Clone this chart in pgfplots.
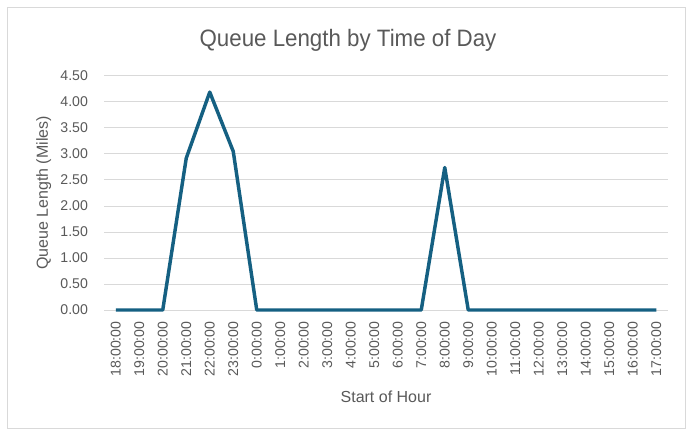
\documentclass[border=0pt]{standalone}
\usepackage{pgfplots}
\pgfplotsset{compat=1.18}
\usepackage{fontspec}
\setmainfont{Liberation Sans}
\newfontfamily\titlefont[FakeStretch=0.94]{Liberation Sans}
\definecolor{lineblue}{HTML}{156082}
\definecolor{gridgray}{HTML}{D9D9D9}
\definecolor{textgray}{HTML}{595959}
\begin{document}
\begin{tikzpicture}[x=0.75pt,y=0.75pt]
\path[use as bounding box] (0,0) rectangle (686,429);
\draw[gridgray, line width=0.75pt] (7.5,1) rectangle (685.5,421);
\node[text=textgray, font=\titlefont\fontsize{17.8}{21}\selectfont] at (348,389) {Queue Length by Time of Day};
\begin{axis}[
  at={(78pt,89.25pt)}, anchor=south west,
  width=423pt, height=175.5pt, scale only axis,
  xmin=-0.5, xmax=23.5, ymin=0, ymax=4.5,
  ytick={0,0.5,...,4.5},
  /pgf/number format/fixed, /pgf/number format/fixed zerofill, /pgf/number format/precision=2, /pgf/number format/assume math mode=true,
  xtick={0,...,23},
  xticklabels={18:00:00,19:00:00,20:00:00,21:00:00,22:00:00,23:00:00,0:00:00,1:00:00,2:00:00,3:00:00,4:00:00,5:00:00,6:00:00,7:00:00,8:00:00,9:00:00,10:00:00,11:00:00,12:00:00,13:00:00,14:00:00,15:00:00,16:00:00,17:00:00},
  xticklabel style={rotate=90, anchor=east, font=\fontsize{10.6}{12}\selectfont, text=textgray, xshift=-5pt},
  yticklabel style={font=\fontsize{10.6}{12}\selectfont, text=textgray, xshift=-8.5pt},
  ymajorgrids, grid style={gridgray, line width=0.75pt},
  axis line style={draw=none},
  tick style={draw=none},
  major tick length=0pt,
  xlabel={Start of Hour}, ylabel={Queue Length (Miles)},
  label style={font=\fontsize{12}{14}\selectfont, text=textgray},
  xlabel style={yshift=-4pt},
  ylabel style={yshift=0pt},
  clip=false,
]
\draw[gridgray, line width=0.75pt] (axis cs:-0.5,0) -- (axis cs:23.5,0);
\addplot[lineblue, line width=2.6pt, line join=round, mark=none] coordinates {
(0,0) (1,0) (2,0) (3,2.92) (4,4.19) (5,3.05) (6,0) (7,0) (8,0) (9,0) (10,0) (11,0) (12,0) (13,0) (14,2.74) (15,0) (16,0) (17,0) (18,0) (19,0) (20,0) (21,0) (22,0) (23,0)
};
\end{axis}
\end{tikzpicture}
\end{document}
